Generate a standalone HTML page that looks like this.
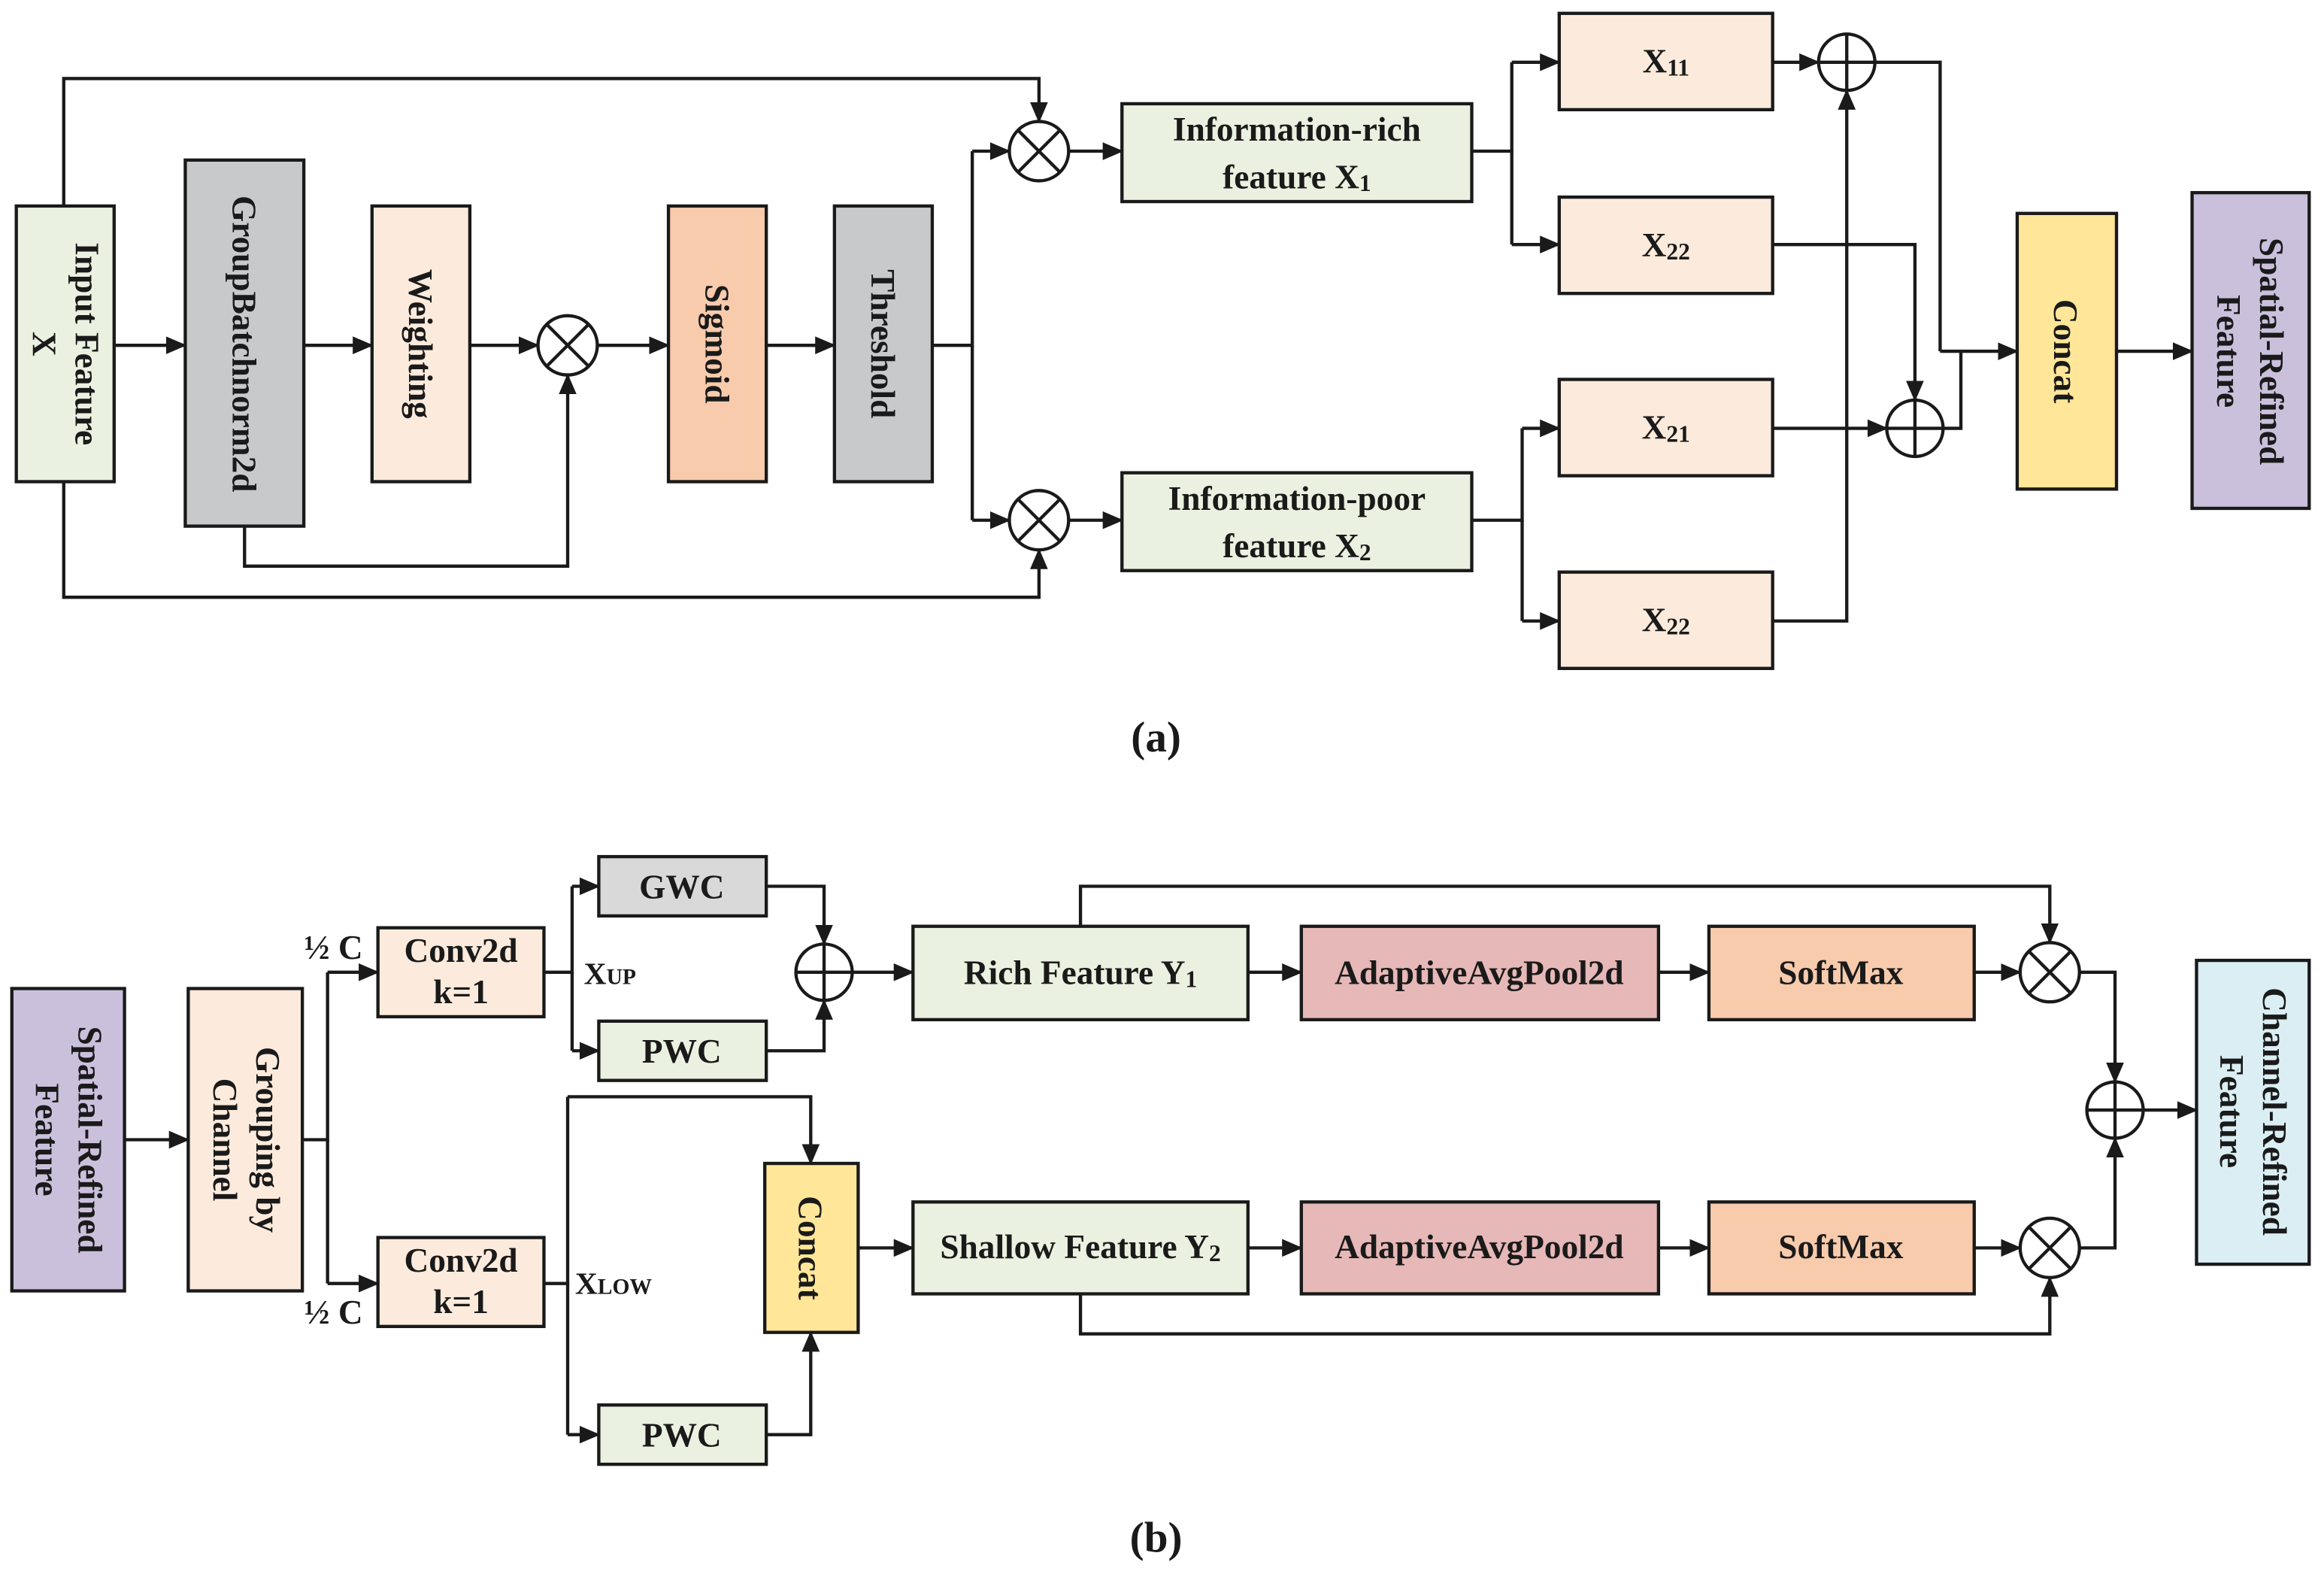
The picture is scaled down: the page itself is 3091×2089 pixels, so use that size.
<!DOCTYPE html>
<html><head><meta charset="utf-8"><style>
html,body{margin:0;padding:0;background:#fff;}
svg{display:block;}
text{font-family:"Liberation Serif",serif;font-weight:bold;fill:#1a1a1a;}
</style></head><body>
<svg width="3091" height="2089" viewBox="0 0 1568 1060" preserveAspectRatio="none" xmlns="http://www.w3.org/2000/svg">
<defs>
<marker id="a" viewBox="0 0 14 12" refX="13" refY="6" markerWidth="14" markerHeight="12" orient="auto" markerUnits="userSpaceOnUse">
<path d="M0,0 L14,6 L0,12 z" fill="#1a1a1a"/>
</marker>
</defs>
<style>
.l{fill:none;stroke:#1a1a1a;stroke-width:2.2;}
.b{stroke:#1a1a1a;stroke-width:2.2;}
.ar{fill:none;stroke:#1a1a1a;stroke-width:2.2;marker-end:url(#a);}
.c{fill:#fff;stroke:#1a1a1a;stroke-width:2.2;}
</style>
<!-- ===== (a) ===== -->
<rect class="b" x="11" y="139" width="66" height="186" fill="#ebf1e0"/>
<rect class="b" x="125" y="108" width="80" height="247" fill="#c8c9cb"/>
<rect class="b" x="251" y="139" width="66" height="186" fill="#fcebdc"/>
<rect class="b" x="451" y="139" width="66" height="186" fill="#f8cbad"/>
<rect class="b" x="563" y="139" width="66" height="186" fill="#c8c9cb"/>
<g font-size="23">
<text transform="translate(51,232) rotate(90)" text-anchor="middle">Input Feature</text>
<text transform="translate(22,232) rotate(90)" text-anchor="middle">X</text>
<text transform="translate(157,232) rotate(90)" text-anchor="middle">GroupBatchnorm2d</text>
<text transform="translate(276,232) rotate(90)" text-anchor="middle">Weighting</text>
<text transform="translate(476,232) rotate(90)" text-anchor="middle">Sigmoid</text>
<text transform="translate(588,232) rotate(90)" text-anchor="middle">Threshold</text>
</g>
<path class="ar" d="M77,233 H125"/>
<path class="ar" d="M205,233 H251"/>
<path class="ar" d="M317,233 H363"/>
<circle class="c" cx="383" cy="233" r="20"/>
<path class="l" d="M369,219 L397,247 M397,219 L369,247"/>
<path class="ar" d="M403,233 H451"/>
<path class="ar" d="M517,233 H563"/>
<path class="ar" d="M165,355 V382 H383 V253"/>
<path class="l" d="M629,233 H656 V102"/>
<path class="ar" d="M656,102 H681"/>
<path class="l" d="M656,233 V351"/>
<path class="ar" d="M656,351 H681"/>
<path class="ar" d="M43,139 V53 H701 V82"/>
<path class="ar" d="M43,325 V403 H701 V371"/>
<circle class="c" cx="701" cy="102" r="20"/>
<path class="l" d="M687,88 L715,116 M715,88 L687,116"/>
<circle class="c" cx="701" cy="351" r="20"/>
<path class="l" d="M687,337 L715,365 M715,337 L687,365"/>
<path class="ar" d="M721,102 H757"/>
<path class="ar" d="M721,351 H757"/>
<rect class="b" x="757" y="70" width="236" height="66" fill="#ebf1e0"/>
<rect class="b" x="757" y="319" width="236" height="66" fill="#ebf1e0"/>
<g font-size="23" text-anchor="middle">
<text x="875" y="95">Information-rich</text>
<text x="875" y="127">feature X<tspan font-size="16" dy="2">1</tspan></text>
<text x="875" y="344">Information-poor</text>
<text x="875" y="376">feature X<tspan font-size="16" dy="2">2</tspan></text>
</g>
<path class="l" d="M993,102 H1020 V42"/>
<path class="ar" d="M1020,42 H1052"/>
<path class="l" d="M1020,102 V165"/>
<path class="ar" d="M1020,165 H1052"/>
<path class="l" d="M993,351 H1027 V289"/>
<path class="ar" d="M1027,289 H1052"/>
<path class="l" d="M1027,351 V419"/>
<path class="ar" d="M1027,419 H1052"/>
<rect class="b" x="1052" y="9" width="144" height="65" fill="#fcebdc"/>
<rect class="b" x="1052" y="133" width="144" height="65" fill="#fcebdc"/>
<rect class="b" x="1052" y="256" width="144" height="65" fill="#fcebdc"/>
<rect class="b" x="1052" y="386" width="144" height="65" fill="#fcebdc"/>
<g font-size="23" text-anchor="middle">
<text x="1124" y="49">X<tspan font-size="16" dy="2">11</tspan></text>
<text x="1124" y="173">X<tspan font-size="16" dy="2">22</tspan></text>
<text x="1124" y="296">X<tspan font-size="16" dy="2">21</tspan></text>
<text x="1124" y="426">X<tspan font-size="16" dy="2">22</tspan></text>
</g>
<path class="ar" d="M1196,42 H1227"/>
<path class="ar" d="M1196,419 H1246 V61"/>
<path class="ar" d="M1196,289 H1273"/>
<path class="ar" d="M1196,165 H1292 V270"/>
<circle class="c" cx="1246" cy="42" r="19"/>
<path class="l" d="M1227,42 H1265 M1246,23 V61"/>
<circle class="c" cx="1292" cy="289" r="19"/>
<path class="l" d="M1273,289 H1311 M1292,270 V308"/>
<path class="l" d="M1265,42 H1309 V237"/>
<path class="l" d="M1311,289 H1323 V237"/>
<path class="ar" d="M1309,237 H1361"/>
<rect class="b" x="1361" y="144" width="67" height="186" fill="#ffe699"/>
<text transform="translate(1386,237) rotate(90)" text-anchor="middle" font-size="23">Concat</text>
<path class="ar" d="M1428,237 H1479"/>
<rect class="b" x="1479" y="130" width="79" height="213" fill="#cbc0dc"/>
<text transform="translate(1525,237) rotate(90)" text-anchor="middle" font-size="23">Spatial-Refined</text>
<text transform="translate(1496,237) rotate(90)" text-anchor="middle" font-size="23">Feature</text>
<text x="780" y="507" font-size="29" text-anchor="middle" font-weight="normal">(<tspan font-weight="bold">a</tspan>)</text>

<!-- ===== (b) ===== -->
<rect class="b" x="8" y="667" width="76" height="204" fill="#cbc0dc"/>
<text transform="translate(53,769) rotate(90)" text-anchor="middle" font-size="23">Spatial-Refined</text>
<text transform="translate(24,769) rotate(90)" text-anchor="middle" font-size="23">Feature</text>
<path class="ar" d="M84,769 H127"/>
<rect class="b" x="127" y="667" width="77" height="204" fill="#fcebdc"/>
<text transform="translate(173,769) rotate(90)" text-anchor="middle" font-size="23">Grouping by</text>
<text transform="translate(144,769) rotate(90)" text-anchor="middle" font-size="23">Channel</text>
<path class="l" d="M204,769 H221 V656"/>
<path class="ar" d="M221,656 H255"/>
<path class="l" d="M221,769 V866"/>
<path class="ar" d="M221,866 H255"/>
<text x="225" y="647" font-size="23" text-anchor="middle">½ C</text>
<text x="225" y="893" font-size="23" text-anchor="middle">½ C</text>
<rect class="b" x="255" y="626" width="112" height="60" fill="#fcebdc"/>
<rect class="b" x="255" y="835" width="112" height="60" fill="#fcebdc"/>
<g font-size="23" text-anchor="middle">
<text x="311" y="649">Conv2d</text><text x="311" y="677">k=1</text>
<text x="311" y="858">Conv2d</text><text x="311" y="886">k=1</text>
</g>
<path class="l" d="M367,656 H386 V598"/>
<path class="ar" d="M386,598 H404"/>
<path class="l" d="M386,656 V709"/>
<path class="ar" d="M386,709 H404"/>
<text x="394" y="664" font-size="21">X<tspan font-size="15">UP</tspan></text>
<rect class="b" x="404" y="578" width="113" height="40" fill="#d9d9d9"/>
<rect class="b" x="404" y="689" width="113" height="40" fill="#ebf1e0"/>
<text x="460" y="606" font-size="23" text-anchor="middle">GWC</text>
<text x="460" y="717" font-size="23" text-anchor="middle">PWC</text>
<path class="ar" d="M517,598 H556 V637"/>
<path class="ar" d="M517,709 H556 V675"/>
<circle class="c" cx="556" cy="656" r="19"/>
<path class="l" d="M537,656 H575 M556,637 V675"/>
<path class="ar" d="M575,656 H616"/>
<path class="l" d="M367,866 H383 V740"/>
<path class="ar" d="M383,740 H547 V785"/>
<path class="l" d="M383,866 V968"/>
<path class="ar" d="M383,968 H404"/>
<text x="388" y="873" font-size="21">X<tspan font-size="15">LOW</tspan></text>
<rect class="b" x="404" y="948" width="113" height="40" fill="#ebf1e0"/>
<text x="460" y="976" font-size="23" text-anchor="middle">PWC</text>
<path class="ar" d="M517,968 H547 V899"/>
<rect class="b" x="516" y="785" width="63" height="114" fill="#ffe699"/>
<text transform="translate(539,842) rotate(90)" text-anchor="middle" font-size="23">Concat</text>
<path class="ar" d="M579,842 H616"/>
<rect class="b" x="616" y="625" width="226" height="63" fill="#ebf1e0"/>
<rect class="b" x="616" y="811" width="226" height="62" fill="#ebf1e0"/>
<text x="729" y="664" font-size="23" text-anchor="middle">Rich Feature Y<tspan font-size="16" dy="2">1</tspan></text>
<text x="729" y="849" font-size="23" text-anchor="middle">Shallow Feature Y<tspan font-size="16" dy="2">2</tspan></text>
<path class="ar" d="M842,656 H878"/>
<path class="ar" d="M842,842 H878"/>
<rect class="b" x="878" y="625" width="241" height="63" fill="#e6b8b7"/>
<rect class="b" x="878" y="811" width="241" height="62" fill="#e6b8b7"/>
<text x="998" y="664" font-size="23" text-anchor="middle">AdaptiveAvgPool2d</text>
<text x="998" y="849" font-size="23" text-anchor="middle">AdaptiveAvgPool2d</text>
<path class="ar" d="M1119,656 H1153"/>
<path class="ar" d="M1119,842 H1153"/>
<rect class="b" x="1153" y="625" width="179" height="63" fill="#f8cbad"/>
<rect class="b" x="1153" y="811" width="179" height="62" fill="#f8cbad"/>
<text x="1242" y="664" font-size="23" text-anchor="middle">SoftMax</text>
<text x="1242" y="849" font-size="23" text-anchor="middle">SoftMax</text>
<path class="ar" d="M1332,656 H1363"/>
<path class="ar" d="M1332,842 H1363"/>
<path class="ar" d="M729,625 V598 H1383 V636"/>
<path class="ar" d="M729,873 V900 H1383 V862"/>
<circle class="c" cx="1383" cy="656" r="20"/>
<path class="l" d="M1369,642 L1397,670 M1397,642 L1369,670"/>
<circle class="c" cx="1383" cy="842" r="20"/>
<path class="l" d="M1369,828 L1397,856 M1397,828 L1369,856"/>
<path class="ar" d="M1403,656 H1427 V730"/>
<path class="ar" d="M1403,842 H1427 V768"/>
<circle class="c" cx="1427" cy="749" r="19"/>
<path class="l" d="M1408,749 H1446 M1427,730 V768"/>
<path class="ar" d="M1446,749 H1482"/>
<rect class="b" x="1482" y="648" width="76" height="205" fill="#daeef3"/>
<text transform="translate(1527,750) rotate(90)" text-anchor="middle" font-size="23">Channel-Refined</text>
<text transform="translate(1498,750) rotate(90)" text-anchor="middle" font-size="23">Feature</text>
<text x="780" y="1047" font-size="29" text-anchor="middle" font-weight="normal">(<tspan font-weight="bold">b</tspan>)</text>
</svg>
</body></html>
